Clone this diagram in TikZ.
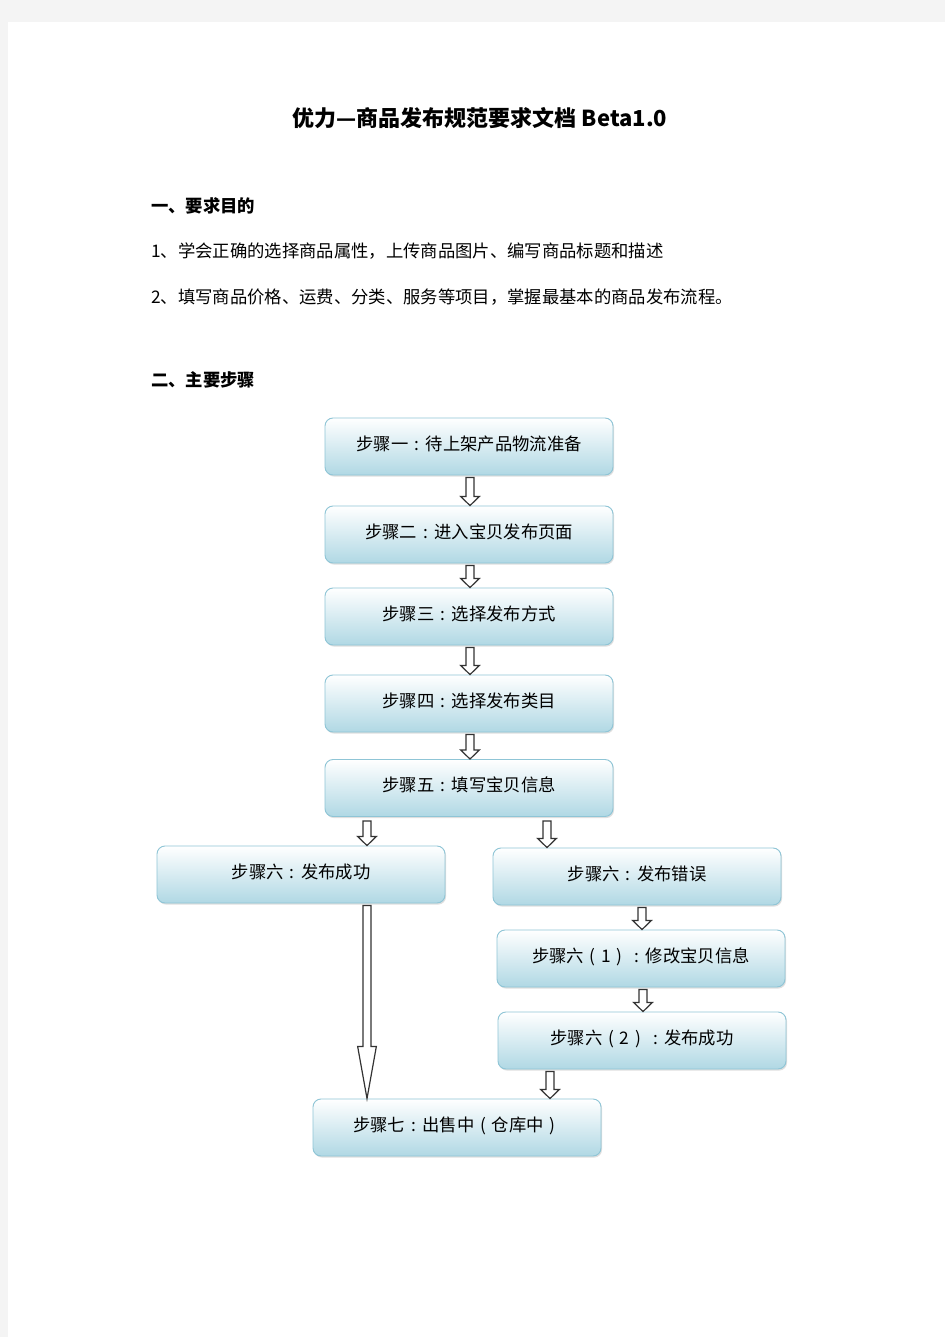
\documentclass[tikz,border=0pt]{standalone}
\usepackage{fontspec}
\newfontfamily\cjk{Noto Sans CJK SC}
\usetikzlibrary{calc}
\usetikzlibrary{positioning}
\usetikzlibrary{shadows}

\definecolor{pagegray}{HTML}{F4F4F4}
\definecolor{boxline}{HTML}{8FC5D6}
\definecolor{boxblue}{HTML}{B0D8E4}
\definecolor{arrowline}{HTML}{333333}

% centred full-width colon and brackets
\newcommand{\zcolon}{\makebox[1em][c]{:}}
\newcommand{\zlp}{\makebox[1em][c]{(}}
\newcommand{\zrp}{\makebox[1em][c]{)}}

% hollow block arrow: [head length in px]{from (x taken here)}{to (y taken here)}
\newcommand{\hollowarrow}[3][9]{%
  \draw[hollow] let \p1=(#2), \p2=(#3) in
    (\x1-3pt,\y1-1.5pt) -- (\x1+3pt,\y1-1.5pt) -- (\x1+3pt,{\y2+#1*0.75pt})
    -- (\x1+7pt,{\y2+#1*0.75pt}) -- (\x1,\y2) -- (\x1-7pt,{\y2+#1*0.75pt})
    -- (\x1-3pt,{\y2+#1*0.75pt}) -- cycle;
}

\begin{document}
\begin{tikzpicture}[x=0.75pt,y=-0.75pt]
\tikzstyle{stepbox}=[rectangle,rounded corners=6pt,draw=boxline,line width=0.7pt,
  top color=white,bottom color=boxblue,minimum width=216pt,minimum height=42.75pt,
  font=\cjk\fontsize{13}{16}\selectfont,text depth=1.3ex,
  drop shadow={shadow xshift=0.8pt,shadow yshift=-1.2pt,opacity=0.25}]
\tikzstyle{hollow}=[draw=arrowline,line width=0.9pt,fill=white,line join=miter]
\tikzstyle{bodytext}=[anchor=west,inner sep=0pt,font=\cjk\fontsize{13}{16}\selectfont]
\tikzstyle{headtext}=[bodytext,font=\cjk\bfseries\fontsize{13}{16}\selectfont]

% page
\fill[pagegray] (0,0) rectangle (945,1337);
\fill[white] (8,22) rectangle (945,1337);

% texts
\node[inner sep=0pt,font=\cjk\bfseries\fontsize{16.5}{20}\selectfont] (title) at (480,118) {优力—商品发布规范要求文档 Beta1.0};
\node[headtext] (head1) at (151,206) {一、要求目的};
\node[bodytext] (line1) at (151,251) {1、学会正确的选择商品属性，上传商品图片、编写商品标题和描述};
\node[bodytext] (line2) at (151,297) {2、填写商品价格、运费、分类、服务等项目，掌握最基本的商品发布流程。};
\node[headtext] (head2) at (151,380) {二、主要步骤};

% steps
\node[stepbox] (s1) at (469,446.5) {步骤一\zcolon 待上架产品物流准备};
\node[stepbox] (s2) at (469,534.5) {步骤二\zcolon 进入宝贝发布页面};
\node[stepbox] (s3) at (469,616.5) {步骤三\zcolon 选择发布方式};
\node[stepbox] (s4) at (469,703.5) {步骤四\zcolon 选择发布类目};
\node[stepbox] (s5) at (469,788) {步骤五\zcolon 填写宝贝信息};
\node[stepbox] (s6a) at (301,874.5) {步骤六\zcolon 发布成功};
\node[stepbox] (s6b) at (637,876.5) {步骤六\zcolon 发布错误};
\node[stepbox] (s61) at (641,958.5) {步骤六\zlp 1\zrp\zcolon 修改宝贝信息};
\node[stepbox] (s62) at (642,1040.5) {步骤六\zlp 2\zrp\zcolon 发布成功};
\node[stepbox] (s7) at (457,1127.5) {步骤七\zcolon 出售中\zlp 仓库中\zrp};

% arrows
\hollowarrow{$(s1.south)+(1,0)$}{s2.north}
\hollowarrow{$(s2.south)+(1,0)$}{s3.north}
\hollowarrow{$(s3.south)+(1,0)$}{s4.north}
\hollowarrow{$(s4.south)+(1,0)$}{s5.north}
\hollowarrow{$(s5.south)+(-102,2)$}{s6a.north}
\hollowarrow{$(s5.south)+(78,2)$}{s6b.north}
\hollowarrow{$(s6b.south)+(5,0)$}{s61.north}
\hollowarrow{$(s61.south)+(2,0)$}{s62.north}
\hollowarrow{$(s62.south)+(-92,0)$}{s7.north}
\hollowarrow[52]{$(s6a.south)+(66,0)$}{s7.north}
\end{tikzpicture}
\end{document}
